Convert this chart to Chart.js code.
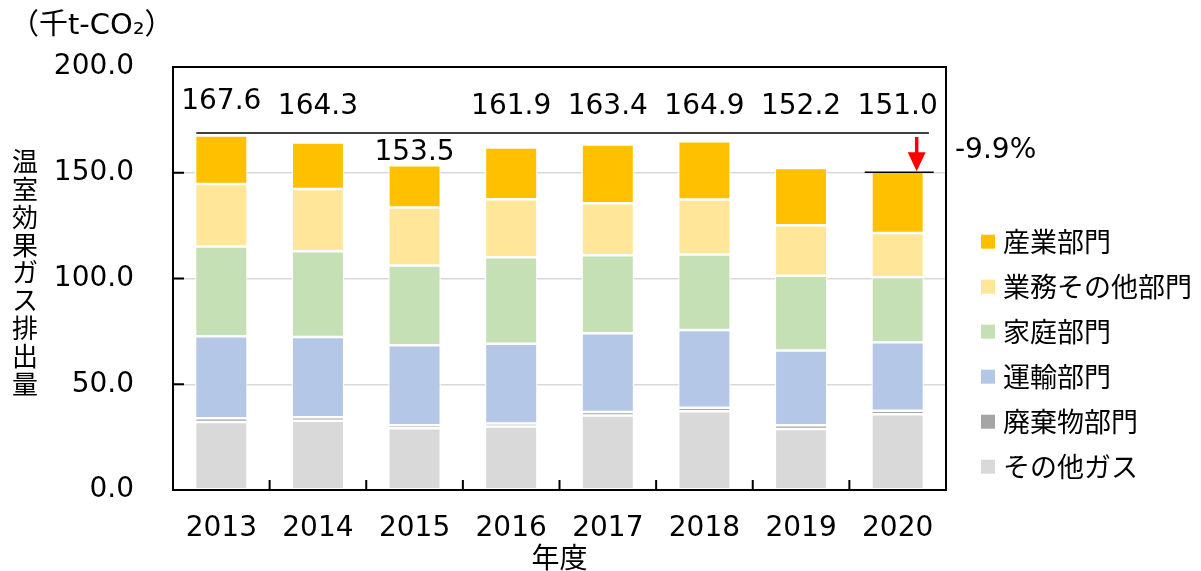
<!DOCTYPE html>
<html>
<head>
<meta charset="utf-8">
<script src="https://cdn.jsdelivr.net/npm/chart.js@4"></script>
<style>
html,body{margin:0;padding:0;background:#fff;}
#wrap{width:1201px;height:571px;position:relative;}
</style>
</head>
<body>
<div id="wrap"><canvas id="c" width="1201" height="571"></canvas></div>
<script>
// ---- data ----
const categories = ['2013','2014','2015','2016','2017','2018','2019','2020'];
const otherGas  = [32.1, 32.8, 29.2, 30.0, 35.2, 37.2, 28.9, 35.8];
const waste     = [1.8, 1.6, 1.4, 1.5, 1.7, 1.7, 1.7, 1.7];
const transport = [38.8, 37.9, 37.8, 37.6, 37.2, 36.7, 35.4, 32.4];
const household = [42.4, 40.6, 37.7, 40.9, 36.9, 35.7, 35.3, 30.7];
const business  = [29.6, 29.4, 27.5, 27.5, 24.6, 26.1, 23.9, 20.9];
const industry  = [22.9, 22.0, 19.9, 24.4, 27.8, 27.5, 27.0, 29.5];
const totals    = [167.6, 164.3, 153.5, 161.9, 163.4, 164.9, 152.2, 151.0];
const yTicks    = [0, 50, 100, 150, 200];
const seriesNames  = ['その他ガス','廃棄物部門','運輸部門','家庭部門','業務その他部門','産業部門'];
const seriesValues = [otherGas, waste, transport, household, business, industry];
const seriesColors = ['#D9D9D9','#A5A5A5','#B4C7E7','#C5E0B4','#FFE699','#FFC000'];
const changeLabel = '-9.9%';
const unitLabel = '（千t-CO₂）';
const yTitle = '温室効果ガス排出量';
const xTitle = '年度';

const LATIN = "'DejaVu Sans', 'Noto Sans CJK JP', sans-serif";
const CJK = "'Noto Sans CJK JP', 'DejaVu Sans', sans-serif";

const overlay = {
  id: 'overlay',
  afterDraw(chart) {
    const {ctx, chartArea: a, scales: {x, y}} = chart;
    ctx.save();
    // frame
    ctx.strokeStyle = '#000';
    ctx.lineWidth = 2;
    ctx.strokeRect(a.left, a.top, a.right - a.left, a.bottom - a.top);
    // inner tick marks
    ctx.beginPath();
    y.ticks.forEach(t => {
      const py = y.getPixelForValue(t.value);
      ctx.moveTo(a.left, py); ctx.lineTo(a.left + 11, py);
    });
    for (let i = 1; i < categories.length; i++) {
      const px = (x.getPixelForValue(i - 1) + x.getPixelForValue(i)) / 2;
      ctx.moveTo(px, a.bottom); ctx.lineTo(px, a.bottom - 10);
    }
    ctx.stroke();

    const topMeta = chart.getDatasetMeta(seriesValues.length - 1);
    const bars = topMeta.data;
    const first = bars[0], last = bars[bars.length - 1];
    const bw = 1.25;
    // reference line at first-year level
    const refY = y.getPixelForValue(totals[0]) - 2.5;
    ctx.lineWidth = 1.5;
    ctx.strokeStyle = '#000';
    ctx.beginPath();
    ctx.moveTo(first.x - first.width / 2 + bw, refY);
    ctx.lineTo(last.x + last.width / 2 + 5, refY);
    ctx.stroke();
    // last-year level line
    const lastY = y.getPixelForValue(totals[totals.length - 1]) + 1.5;
    ctx.beginPath();
    ctx.moveTo(last.x - 33, lastY);
    ctx.lineTo(last.x + 36, lastY);
    ctx.stroke();
    // red arrow
    const ax = last.x + 19;
    ctx.strokeStyle = '#FF0000';
    ctx.fillStyle = '#FF0000';
    ctx.lineWidth = 3.5;
    ctx.beginPath();
    ctx.moveTo(ax, refY + 4);
    ctx.lineTo(ax, lastY - 18);
    ctx.stroke();
    ctx.beginPath();
    ctx.moveTo(ax - 9, lastY - 20);
    ctx.lineTo(ax + 9, lastY - 20);
    ctx.lineTo(ax, lastY - 1);
    ctx.closePath();
    ctx.fill();

    // total labels
    ctx.fillStyle = '#000';
    ctx.font = '28px ' + LATIN;
    ctx.textAlign = 'center';
    ctx.textBaseline = 'middle';
    bars.forEach((b, i) => {
      const topPx = y.getPixelForValue(totals[i]);
      let ly;
      if (categories[i] === '2015') ly = topPx - 13;
      else ly = Math.min(topPx - 34, refY - 26);
      ctx.fillText(totals[i].toFixed(1), b.x, ly);
    });

    // change label
    ctx.textAlign = 'left';
    ctx.fillText(changeLabel, a.right + 9, 151);

    // unit label
    ctx.font = '29px ' + LATIN;
    ctx.fillText(unitLabel, 10, 26);

    // vertical y title
    ctx.font = '26px ' + CJK;
    ctx.textAlign = 'center';
    const chars = Array.from(yTitle);
    chars.forEach((ch, i) => ctx.fillText(ch, 25, 161 + i * 27.9));

    // x title
    ctx.font = '28px ' + CJK;
    ctx.fillText(xTitle, (a.left + a.right) / 2, 557);

    // legend (top series first)
    ctx.font = '27px ' + CJK;
    ctx.textAlign = 'left';
    for (let k = 0; k < seriesNames.length; k++) {
      const idx = seriesNames.length - 1 - k;
      const ly = 241.7 + k * 45;
      ctx.fillStyle = seriesColors[idx];
      ctx.fillRect(981, ly - 7, 14, 14);
      ctx.fillStyle = '#000';
      ctx.fillText(seriesNames[idx], 1003, ly);
    }
    ctx.restore();
  }
};

const datasets = seriesNames.map((n, i) => ({
  label: n,
  data: seriesValues[i],
  backgroundColor: seriesColors[i],
  borderColor: '#FFFFFF',
  borderWidth: 1.25,
  borderSkipped: false,
  inflateAmount: 0,
  barPercentage: 0.543,
  categoryPercentage: 1.0
}));

new Chart(document.getElementById('c'), {
  type: 'bar',
  data: { labels: categories, datasets },
  options: {
    responsive: false,
    devicePixelRatio: 1,
    animation: false,
    layout: { padding: { left: 0, right: 255, top: 67, bottom: 0 } },
    plugins: { legend: { display: false }, tooltip: { enabled: false } },
    scales: {
      x: {
        stacked: true,
        grid: { display: false },
        border: { display: false },
        ticks: { font: { family: LATIN, size: 28 }, color: '#000', padding: 14, maxRotation: 0 },
        afterFit(s) { s.height = 81; }
      },
      y: {
        stacked: true,
        min: 0, max: 200,
        afterBuildTicks(s) { s.ticks = yTicks.map(v => ({ value: v })); },
        ticks: {
          font: { family: LATIN, size: 28 }, color: '#000', padding: 39,
          callback: v => Number(v).toFixed(1)
        },
        grid: { color: '#D9D9D9', lineWidth: 1.5, drawTicks: false },
        border: { display: false },
        afterFit(s) { s.width = 173; }
      }
    }
  },
  plugins: [overlay]
});
</script>
</body>
</html>
